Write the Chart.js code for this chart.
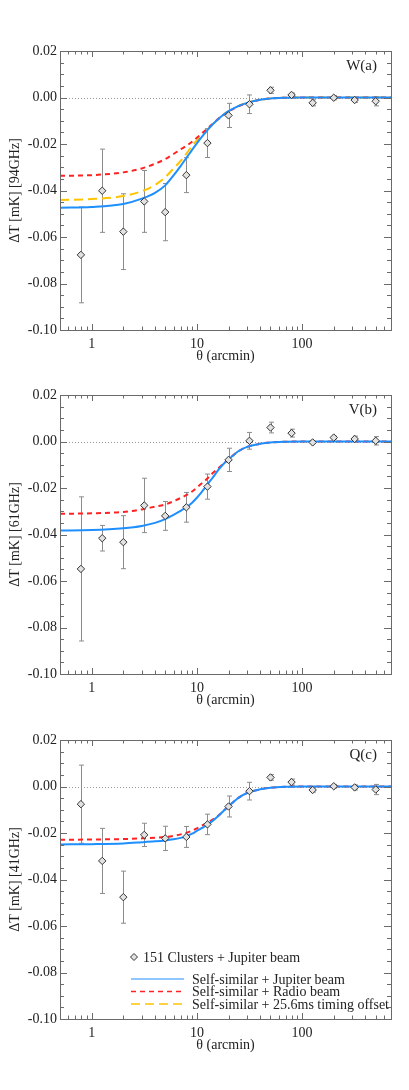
<!DOCTYPE html>
<html>
<head>
<meta charset="utf-8">
<script src="https://cdn.jsdelivr.net/npm/chart.js@4.4.1/dist/chart.umd.min.js"></script>
<style>
  body { margin: 0; background: #fff; }
  #wrap { position: relative; width: 409px; height: 1090px; }
  canvas { position: absolute; left: 0; }
</style>
</head>
<body>
<div id="wrap">
  <canvas id="panelW" width="409" height="365" style="top:0px"></canvas>
  <canvas id="panelV" width="409" height="365" style="top:344px"></canvas>
  <canvas id="panelQ" width="409" height="365" style="top:689px"></canvas>
</div>
<script>
// cluster stack radii (arcmin)
const theta = [0.79, 1.26, 2.0, 3.16, 5.0, 7.94, 12.6, 20.0, 31.6, 50.1, 79.4, 126, 200, 316, 501];

const wValues = [-0.0677, -0.0401, -0.0577, -0.0447, -0.0493, -0.0334, -0.0196, -0.0077, -0.0029, 0.0031, 0.0011, -0.0023, -0.0001, -0.0011, -0.0016];
const wErrors = [0.0206, 0.0179, 0.0163, 0.0133, 0.0123, 0.0075, 0.0062, 0.0052, 0.0040, 0.0013, 0.0008, 0.0013, 0.0009, 0.0010, 0.0020];

const vValues = [-0.0548, -0.0416, -0.0433, -0.0275, -0.0320, -0.0283, -0.0194, -0.0079, 0.0003, 0.0060, 0.0036, -0.0004, 0.0017, 0.0011, 0.0003];
const vErrors = [0.0310, 0.0055, 0.0114, 0.0117, 0.0062, 0.0064, 0.0054, 0.0050, 0.0036, 0.0023, 0.0017, 0.0005, 0.0006, 0.0012, 0.0018];

const qValues = [-0.0076, -0.0320, -0.0476, -0.0208, -0.0223, -0.0217, -0.0163, -0.0086, -0.0020, 0.0039, 0.0019, -0.0015, 0.0001, -0.0004, -0.0013];
const qErrors = [0.0168, 0.0140, 0.0112, 0.0050, 0.0052, 0.0045, 0.0044, 0.0045, 0.0038, 0.0012, 0.0013, 0.0009, 0.0008, 0.0011, 0.0022];

// model curves, read at these radii
const modelTheta = [0.5, 1, 2, 3, 4, 5, 6, 7, 8, 9, 10, 11, 12, 13, 14, 16, 18, 20, 25, 30, 40, 50, 70, 100, 200, 700];

const wJupiter = [-0.0474, -0.0471, -0.0458, -0.0435, -0.0410, -0.0378, -0.0335, -0.0295, -0.0258, -0.0225, -0.0197, -0.0173, -0.0152, -0.0133, -0.0117, -0.0092, -0.0073, -0.0059, -0.0036, -0.0023, -0.0010, -0.0004, -0.0001, 0, 0, 0];
const wRadio   = [-0.0337, -0.0334, -0.0322, -0.0305, -0.0285, -0.0265, -0.0243, -0.0223, -0.0207, -0.0190, -0.0173, -0.0157, -0.0142, -0.0128, -0.0115, -0.0092, -0.0074, -0.0060, -0.0037, -0.0024, -0.0010, -0.0004, -0.0001, 0, 0, 0];
const wTiming  = [-0.0441, -0.0437, -0.0424, -0.0403, -0.0376, -0.0343, -0.0305, -0.0273, -0.0240, -0.0208, -0.0185, -0.0167, -0.0150, -0.0133, -0.0117, -0.0092, -0.0073, -0.0059, -0.0036, -0.0023, -0.0010, -0.0004, -0.0001, 0, 0, 0];

const vJupiter = [-0.0383, -0.0381, -0.0373, -0.0363, -0.0350, -0.0334, -0.0316, -0.0298, -0.0282, -0.0263, -0.0242, -0.0220, -0.0198, -0.0177, -0.0158, -0.0122, -0.0096, -0.0077, -0.0041, -0.0023, -0.0010, -0.0004, -0.0001, 0, 0, 0];
const vRadio   = [-0.0311, -0.0309, -0.0303, -0.0292, -0.0280, -0.0271, -0.0257, -0.0243, -0.0230, -0.0215, -0.0198, -0.0182, -0.0168, -0.0153, -0.0138, -0.0115, -0.0094, -0.0076, -0.0041, -0.0023, -0.0010, -0.0004, -0.0001, 0, 0, 0];

const qJupiter = [-0.0249, -0.0248, -0.0245, -0.0240, -0.0236, -0.0232, -0.0227, -0.0221, -0.0214, -0.0203, -0.0191, -0.0180, -0.0171, -0.0160, -0.0149, -0.0127, -0.0104, -0.0085, -0.0048, -0.0028, -0.0012, -0.0005, -0.0001, 0, 0, 0];
const qRadio   = [-0.0229, -0.0228, -0.0226, -0.0223, -0.0220, -0.0217, -0.0212, -0.0206, -0.0199, -0.0190, -0.0180, -0.0170, -0.0161, -0.0152, -0.0143, -0.0125, -0.0104, -0.0085, -0.0048, -0.0028, -0.0012, -0.0005, -0.0001, 0, 0, 0];

const xTicks = [1, 10, 100];
const yTicks = [-0.10, -0.08, -0.06, -0.04, -0.02, 0.00, 0.02];

const legendLabels = ['151 Clusters + Jupiter beam', 'Self-similar + Jupiter beam', 'Self-similar + Radio beam', 'Self-similar + 25.6ms timing offset'];

const FONT = { family: "'Liberation Serif', 'DejaVu Serif', serif", size: 14 };
const INK = '#222';
const FRAME = '#6a6a6a';
const BLUE = '#1e8fff';
const RED = '#ff2222';
const GOLD = '#ffc400';

const toXY = (xs, ys) => xs.map((x, i) => ({ x: x, y: ys[i] }));

// IDL-style box, inward ticks, zero line, error bars, panel tag, legend
const idlFrame = {
    id: 'idlFrame',
    beforeDatasetsDraw(chart, args, opts) {
        const { ctx, chartArea: a, scales: { x, y } } = chart;
        ctx.save();
        ctx.strokeStyle = '#9a9a9a';
        ctx.lineWidth = 1;
        ctx.setLineDash([1, 2]);
        const y0 = Math.round(y.getPixelForValue(0)) + 0.5;
        ctx.beginPath();
        ctx.moveTo(a.left, y0);
        ctx.lineTo(a.right, y0);
        ctx.stroke();
        ctx.setLineDash([]);

        // error bars
        ctx.strokeStyle = '#8c8c8c';
        opts.values.forEach((v, i) => {
            const px = Math.round(x.getPixelForValue(theta[i])) + 0.5;
            const top = y.getPixelForValue(v + opts.errors[i]);
            const bot = y.getPixelForValue(v - opts.errors[i]);
            ctx.beginPath();
            ctx.moveTo(px, top); ctx.lineTo(px, bot);
            ctx.moveTo(px - 2.5, top); ctx.lineTo(px + 2.5, top);
            ctx.moveTo(px - 2.5, bot); ctx.lineTo(px + 2.5, bot);
            ctx.stroke();
        });
        ctx.restore();
    },
    afterDraw(chart, args, opts) {
        const { ctx, chartArea: a, scales: { x, y } } = chart;
        ctx.save();
        ctx.strokeStyle = FRAME;
        ctx.lineWidth = 1;
        ctx.strokeRect(Math.round(a.left) + 0.5, Math.round(a.top) + 0.5, Math.round(a.right - a.left), Math.round(a.bottom - a.top));

        ctx.beginPath();
        // y ticks every 0.005, major every 0.02
        for (let k = 0; k <= 24; k++) {
            const v = -0.10 + k * 0.005;
            const py = Math.round(y.getPixelForValue(v)) + 0.5;
            const len = (k % 4 === 0) ? 7 : 4;
            ctx.moveTo(a.left, py); ctx.lineTo(a.left + len, py);
            ctx.moveTo(a.right, py); ctx.lineTo(a.right - len, py);
        }
        // x log ticks
        for (let d = 0.1; d <= 100; d *= 10) {
            for (let m = 1; m <= 9; m++) {
                const v = d * m;
                if (v < x.min || v > x.max) continue;
                const px = Math.round(x.getPixelForValue(v)) + 0.5;
                const len = (m === 1) ? 6 : 3.5;
                ctx.moveTo(px, a.bottom); ctx.lineTo(px, a.bottom - len);
                ctx.moveTo(px, a.top); ctx.lineTo(px, a.top + len);
            }
        }
        ctx.stroke();

        // panel tag
        ctx.fillStyle = INK;
        ctx.font = `${FONT.size + 1}px ${FONT.family}`;
        ctx.textAlign = 'right';
        ctx.textBaseline = 'middle';
        ctx.fillText(opts.tag, a.right - 14, a.top + 15);

        if (opts.legend) {
            ctx.font = `${FONT.size}px ${FONT.family}`;
            ctx.textAlign = 'left';
            // data symbol
            const dx = a.left + 74, dy = a.top + 217;
            ctx.beginPath();
            ctx.moveTo(dx, dy - 3.5); ctx.lineTo(dx + 3.5, dy); ctx.lineTo(dx, dy + 3.5); ctx.lineTo(dx - 3.5, dy); ctx.closePath();
            ctx.fillStyle = '#e2e2e2'; ctx.fill();
            ctx.strokeStyle = '#333'; ctx.stroke();
            ctx.fillStyle = INK;
            ctx.fillText(legendLabels[0], a.left + 83, dy + 1);

            const rows = [
                { color: BLUE, dash: [], width: 1.2, label: legendLabels[1] },
                { color: RED, dash: [5, 4], width: 1.5, label: legendLabels[2] },
                { color: GOLD, dash: [9, 5], width: 1.5, label: legendLabels[3] }
            ];
            rows.forEach((r, i) => {
                const ly = a.top + 239 + i * 12.5;
                ctx.strokeStyle = r.color;
                ctx.lineWidth = r.width;
                ctx.setLineDash(r.dash);
                ctx.beginPath();
                ctx.moveTo(a.left + 71, ly); ctx.lineTo(a.left + 124, ly);
                ctx.stroke();
                ctx.setLineDash([]);
                ctx.fillStyle = INK;
                ctx.fillText(r.label, a.left + 132, ly + 1);
            });
        }
        ctx.restore();
    }
};

function curve(label, ys, color, dash) {
    return {
        label: label,
        data: toXY(modelTheta, ys),
        showLine: true,
        borderColor: color,
        borderWidth: 2,
        borderDash: dash,
        pointRadius: 0,
        cubicInterpolationMode: 'monotone',
        fill: false
    };
}

function makePanel(id, yTitle, tag, values, errors, curves, legend) {
    const datasets = [{
        label: legendLabels[0],
        data: toXY(theta, values),
        showLine: false,
        pointStyle: 'rectRot',
        pointRadius: 3.7,
        pointBackgroundColor: '#e2e2e2',
        pointBorderColor: '#333',
        pointBorderWidth: 1
    }].concat(curves);

    new Chart(document.getElementById(id), {
        type: 'scatter',
        data: { datasets: datasets },
        options: {
            responsive: false,
            animation: false,
            layout: { padding: { top: 51, right: 18, left: 0, bottom: 0 } },
            plugins: {
                legend: { display: false },
                tooltip: { enabled: false },
                idlFrame: { tag: tag, values: values, errors: errors, legend: legend }
            },
            scales: {
                x: {
                    type: 'logarithmic',
                    min: 0.5,
                    max: 700,
                    grid: { display: false, drawTicks: false },
                    border: { display: false },
                    afterBuildTicks: s => { s.ticks = xTicks.map(v => ({ value: v })); },
                    afterFit: s => { s.height = 35; },
                    ticks: {
                        font: FONT, color: INK, padding: 6, maxRotation: 0, autoSkip: false,
                        callback: v => String(v)
                    },
                    title: { display: true, text: 'θ (arcmin)', font: FONT, color: INK, padding: 0 }
                },
                y: {
                    min: -0.10,
                    max: 0.02,
                    grid: { display: false, drawTicks: false },
                    border: { display: false },
                    afterBuildTicks: s => { s.ticks = yTicks.map(v => ({ value: v })); },
                    afterFit: s => { s.width = 60; },
                    ticks: {
                        font: FONT, color: INK, padding: 3,
                        callback: v => Math.abs(v) < 1e-9 ? '0.00' : v.toFixed(2)
                    },
                    title: { display: true, text: yTitle, font: FONT, color: INK, padding: { top: 7, bottom: 0 } }
                }
            }
        },
        plugins: [idlFrame]
    });
}

makePanel('panelW', 'ΔT [mK] [94GHz]', 'W(a)', wValues, wErrors, [
    curve(legendLabels[1], wJupiter, BLUE, []),
    curve(legendLabels[2], wRadio, RED, [5, 4]),
    curve(legendLabels[3], wTiming, GOLD, [9, 5])
], false);

makePanel('panelV', 'ΔT [mK] [61GHz]', 'V(b)', vValues, vErrors, [
    curve(legendLabels[1], vJupiter, BLUE, []),
    curve(legendLabels[2], vRadio, RED, [5, 4])
], false);

makePanel('panelQ', 'ΔT [mK] [41GHz]', 'Q(c)', qValues, qErrors, [
    curve(legendLabels[1], qJupiter, BLUE, []),
    curve(legendLabels[2], qRadio, RED, [5, 4])
], true);
</script>
</body>
</html>
